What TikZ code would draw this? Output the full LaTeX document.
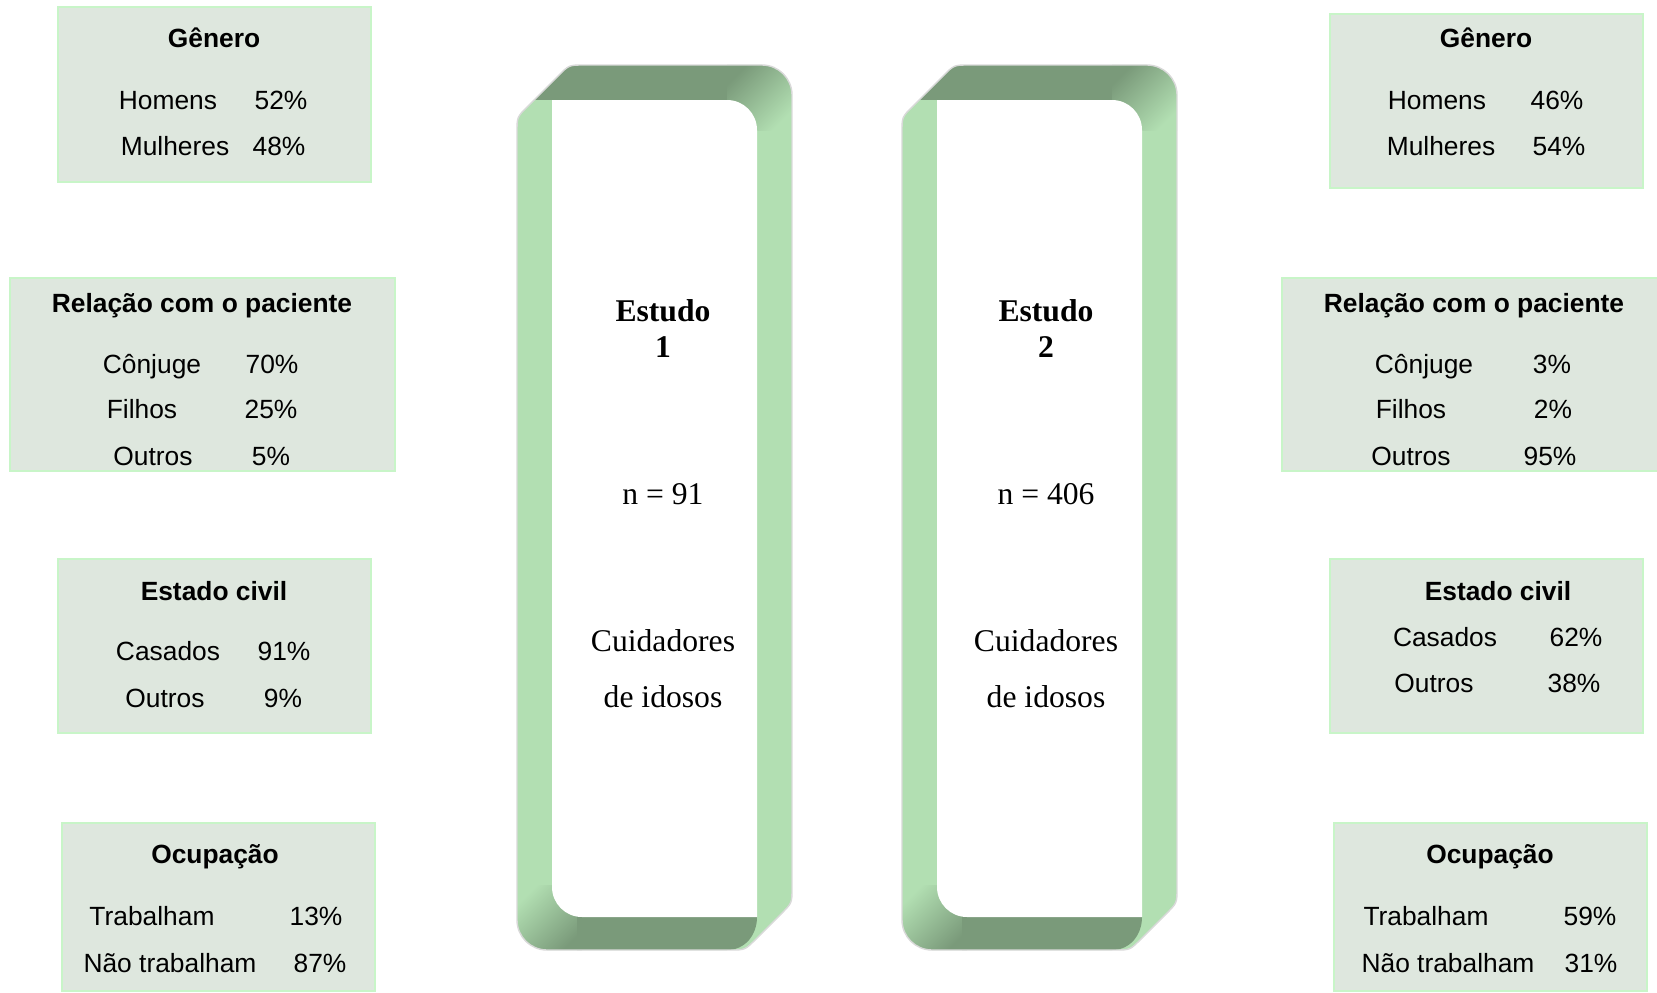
\documentclass[tikz,border=0pt]{standalone}
\usepackage{fontspec}
\setmainfont{Liberation Serif}
\setsansfont{Liberation Sans}
\usetikzlibrary{calc}
\definecolor{fitaclara}{RGB}{178,223,178}
\definecolor{fitaescura}{RGB}{122,154,122}
\definecolor{caixafundo}{RGB}{222,231,222}
\definecolor{caixaborda}{RGB}{200,245,200}
\def\bordafora{(0,0.3) -- (0,8.18) .. controls (0,8.33) .. (0.106,8.436) -- (0.414,8.744) .. controls (0.52,8.85) .. (0.67,8.85) -- (2.45,8.85) arc (90:0:0.3) -- (2.75,0.62) .. controls (2.75,0.47) .. (2.644,0.364) -- (2.386,0.106) .. controls (2.28,0) .. (2.13,0) -- (0.3,0) arc (270:180:0.3) -- cycle}
\def\bordadentro{(0.35,4) -- (0.35,8.50) -- (2.10,8.50) arc (90:0:0.3) -- (2.40,0.33) -- (0.65,0.33) arc (270:180:0.3) -- cycle}
\def\fita(#1){
	\begin{scope}[shift={(#1,0.42)}]
		\begin{scope}
			\clip \bordafora;
			\fill[fitaclara] (0,0) rectangle (2.75,8.85);
			\fill[fitaescura] (0,8.50) rectangle (2.20,8.85);
			\shade[top color=fitaescura, bottom color=fitaclara, shading angle=45] (2.10,8.20) rectangle (2.75,8.85);
			\shade[top color=fitaclara, bottom color=fitaescura, shading angle=45] (0,0) rectangle (0.65,0.65);
			\fill[fitaescura] (0.6,0) -- (0.6,0.33) -- (2.40,0.33) .. controls (2.40,0.15) and (2.28,0) .. (2.10,0) -- cycle;
		\end{scope}
		\fill[white] \bordadentro;
		\draw[black!15, line width=0.4pt] \bordafora;
	\end{scope}
}
\tikzset{
	caixa/.style={fill=caixafundo, draw=caixaborda, line width=0.6pt},
	item/.style={anchor=base, inner sep=0pt, font=\sffamily\fontsize{7.5}{9}\selectfont},
	titulo/.style={item, font=\sffamily\bfseries\fontsize{7.5}{9}\selectfont},
	estudo/.style={anchor=base, inner sep=0pt, font=\fontsize{9}{11}\selectfont}
}

\begin{document}
\begin{tikzpicture}
			%%%%% START %%%%%
			\useasboundingbox (0,0) rectangle (16.57,9.92);
			
			% fitas dos estudos
			\fita(5.17)
			\fita(9.02)
			
			\node[estudo, font=\bfseries\fontsize{9}{11}\selectfont] (est1) at (6.63, 6.71) {Estudo};
			\node[estudo, font=\bfseries\fontsize{9}{11}\selectfont] (num1) at (6.63, 6.35) {1};
			\node[estudo] (n1) at (6.63, 4.88) {n = 91};
			\node[estudo] (cui1) at (6.63, 3.41) {Cuidadores};
			\node[estudo] (ido1) at (6.63, 2.85) {de idosos};
			
			\node[estudo, font=\bfseries\fontsize{9}{11}\selectfont] (est2) at (10.46, 6.71) {Estudo};
			\node[estudo, font=\bfseries\fontsize{9}{11}\selectfont] (num2) at (10.46, 6.35) {2};
			\node[estudo] (n2) at (10.46, 4.88) {n = 406};
			\node[estudo] (cui2) at (10.46, 3.41) {Cuidadores};
			\node[estudo] (ido2) at (10.46, 2.85) {de idosos};
			
			% caixas do estudo 1
			\draw[caixa] (0.58, 9.85) rectangle (3.71, 8.10);
			\node[titulo] (gen1) at (2.14, 9.44) {Gênero};
			\node[item] (hom1) at (1.68, 8.83) {Homens};
			\node[item] (phom1) at (2.81, 8.83) {52\%};
			\node[item] (mul1) at (1.75, 8.37) {Mulheres};
			\node[item] (pmul1) at (2.79, 8.37) {48\%};
			
			\draw[caixa] (0.10, 7.14) rectangle (3.95, 5.21);
			\node[titulo] (rel1) at (2.02, 6.80) {Relação com o paciente};
			\node[item] (con1) at (1.52, 6.19) {Cônjuge};
			\node[item] (pcon1) at (2.72, 6.19) {70\%};
			\node[item] (fil1) at (1.42, 5.74) {Filhos};
			\node[item] (pfil1) at (2.71, 5.74) {25\%};
			\node[item] (out1) at (1.53, 5.27) {Outros};
			\node[item] (pout1) at (2.71, 5.27) {5\%};
			
			\draw[caixa] (0.58, 4.33) rectangle (3.71, 2.59);
			\node[titulo] (civ1) at (2.14, 3.92) {Estado civil};
			\node[item] (cas1) at (1.68, 3.32) {Casados};
			\node[item] (pcas1) at (2.84, 3.32) {91\%};
			\node[item] (ocv1) at (1.65, 2.85) {Outros};
			\node[item] (pocv1) at (2.83, 2.85) {9\%};
			
			\draw[caixa] (0.62, 1.69) rectangle (3.75, 0.01);
			\node[titulo] (ocu1) at (2.15, 1.29) {Ocupação};
			\node[item] (tra1) at (1.52, 0.67) {Trabalham};
			\node[item] (ptra1) at (3.16, 0.67) {13\%};
			\node[item] (ntr1) at (1.70, 0.20) {Não trabalham};
			\node[item] (pntr1) at (3.20, 0.20) {87\%};
			
			% caixas do estudo 2
			\draw[caixa] (13.30, 9.78) rectangle (16.43, 8.04);
			\node[titulo] (gen2) at (14.86, 9.44) {Gênero};
			\node[item] (hom2) at (14.37, 8.83) {Homens};
			\node[item] (phom2) at (15.57, 8.83) {46\%};
			\node[item] (mul2) at (14.41, 8.37) {Mulheres};
			\node[item] (pmul2) at (15.59, 8.37) {54\%};
			
			\draw[caixa] (12.82, 7.14) rectangle (16.65, 5.21);
			\node[titulo] (rel2) at (14.74, 6.80) {Relação com o paciente};
			\node[item] (con2) at (14.24, 6.19) {Cônjuge};
			\node[item] (pcon2) at (15.52, 6.19) {3\%};
			\node[item] (fil2) at (14.11, 5.74) {Filhos};
			\node[item] (pfil2) at (15.53, 5.74) {2\%};
			\node[item] (out2) at (14.11, 5.27) {Outros};
			\node[item] (pout2) at (15.50, 5.27) {95\%};
			
			\draw[caixa] (13.30, 4.33) rectangle (16.43, 2.59);
			\node[titulo] (civ2) at (14.98, 3.92) {Estado civil};
			\node[item] (cas2) at (14.45, 3.46) {Casados};
			\node[item] (pcas2) at (15.76, 3.46) {62\%};
			\node[item] (ocv2) at (14.34, 3.00) {Outros};
			\node[item] (pocv2) at (15.74, 3.00) {38\%};
			
			\draw[caixa] (13.34, 1.69) rectangle (16.47, 0.01);
			\node[titulo] (ocu2) at (14.90, 1.29) {Ocupação};
			\node[item] (tra2) at (14.26, 0.67) {Trabalham};
			\node[item] (ptra2) at (15.90, 0.67) {59\%};
			\node[item] (ntr2) at (14.48, 0.20) {Não trabalham};
			\node[item] (pntr2) at (15.91, 0.20) {31\%};
			
			%%%%% END %%%%%
\end{tikzpicture}
\end{document}
